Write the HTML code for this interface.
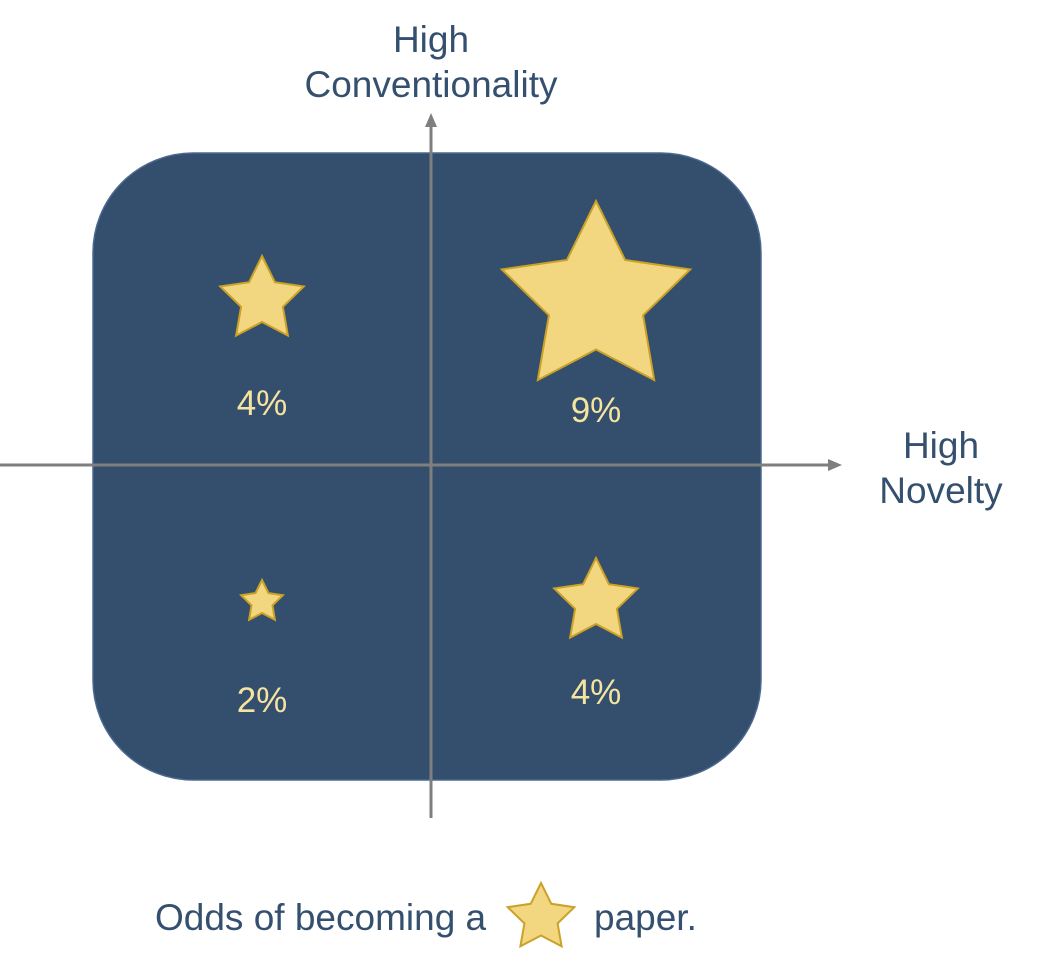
<!DOCTYPE html>
<html><head><meta charset="utf-8"><style>
html,body{margin:0;padding:0;background:#fff;}
svg{display:block;font-family:"Liberation Sans",Arial,sans-serif;}
</style></head><body>
<svg id="chart" width="1039" height="960" viewBox="0 0 1039 960">
<rect x="93" y="153" width="668" height="627" rx="100" ry="100" fill="#344e6d" stroke="#4a6890" stroke-width="1.5"/>
<line x1="431" y1="818" x2="431" y2="124" stroke="#7f7f7f" stroke-width="3"/>
<polygon points="431,113 425,127 437,127" fill="#7f7f7f"/>
<line x1="0" y1="465" x2="830" y2="465" stroke="#7f7f7f" stroke-width="3"/>
<polygon points="842,465 828,459 828,471" fill="#7f7f7f"/>
<text x="431" y="52" text-anchor="middle" font-size="37" fill="#34506e">High</text>
<text x="431" y="97" text-anchor="middle" font-size="37" fill="#34506e">Conventionality</text>
<text x="941" y="458" text-anchor="middle" font-size="37" fill="#34506e">High</text>
<text x="941" y="503" text-anchor="middle" font-size="37" fill="#34506e">Novelty</text>
<g id="marks"></g>
<text x="155" y="930" font-size="37" fill="#34506e">Odds of becoming a</text>
<text x="594" y="930" font-size="37" fill="#34506e">paper.</text>
<g id="legend"></g>
</svg>
<script>
const quadrants = ["low-novelty-high-conv","high-novelty-high-conv","low-novelty-low-conv","high-novelty-low-conv"];
const odds = [4, 9, 2, 4];
const labels = ["4%","9%","2%","4%"];
const noveltyHigh = [0, 1, 0, 1];
const convHigh = [1, 1, 0, 0];

const NS = "http://www.w3.org/2000/svg";
function xPos(n){ return n ? 596 : 262; }
function starY(c){ return c ? 300 : 602; }
function labelY(c){ return c ? 418 : 712; }
function radius(v){ return v * 11; }
function starPts(cx, cy, R){
  const r = R * 0.5, p = [];
  for (let i = 0; i < 10; i++){
    const a = -Math.PI/2 + i*Math.PI/5, rr = i%2 ? r : R;
    p.push((cx + rr*Math.cos(a)).toFixed(1) + "," + (cy + rr*Math.sin(a)).toFixed(1));
  }
  return p.join(" ");
}
const g = document.getElementById("marks");
for (let i = 0; i < odds.length; i++){
  const R = radius(odds[i]);
  const s = document.createElementNS(NS, "polygon");
  s.setAttribute("points", starPts(xPos(noveltyHigh[i]), starY(convHigh[i]), R));
  s.setAttribute("fill", "#f2d680");
  s.setAttribute("stroke", "#c9a227");
  s.setAttribute("stroke-width", "2");
  
  
  g.appendChild(s);
  const t = document.createElementNS(NS, "text");
  t.setAttribute("x", xPos(noveltyHigh[i]));
  t.setAttribute("y", labelY(convHigh[i]) - (convHigh[i] && !noveltyHigh[i] ? 3 : 0) + (convHigh[i] && noveltyHigh[i] ? 4 : 0) - (!convHigh[i] && noveltyHigh[i] ? 8 : 0));
  t.setAttribute("text-anchor", "middle");
  t.setAttribute("font-size", "35");
  t.setAttribute("fill", "#f5e3a0");
  t.textContent = labels[i];
  
  
  g.appendChild(t);
}
const ls = document.createElementNS(NS, "polygon");
ls.setAttribute("points", starPts(541, 918, 35));
ls.setAttribute("fill", "#f2d680");
ls.setAttribute("stroke", "#c9a227");
ls.setAttribute("stroke-width", "2");


document.getElementById("legend").appendChild(ls);
</script>
</body></html>
